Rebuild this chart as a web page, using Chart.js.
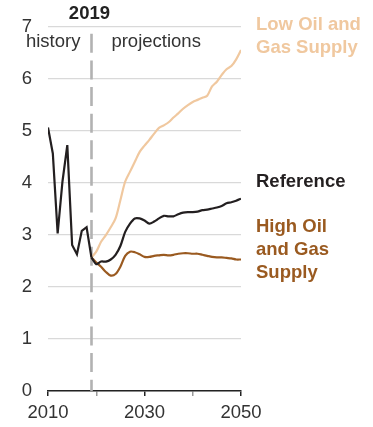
<!DOCTYPE html>
<html>
<head>
<meta charset="utf-8">
<script src="https://cdn.jsdelivr.net/npm/chart.js@4.4.1/dist/chart.umd.min.js"></script>
<style>
  html, body { margin: 0; padding: 0; background: #ffffff; }
  #wrap { width: 373px; height: 427px; }
</style>
</head>
<body>
<div id="wrap"><canvas id="c" width="373" height="427"></canvas></div>
<script>
// Years covered by the history series and the projection series
const historyYears = [2010, 2011, 2012, 2013, 2014, 2015, 2016, 2017, 2018, 2019];
const projectionYears = [2019, 2020, 2021, 2022, 2023, 2024, 2025, 2026, 2027, 2028, 2029,
  2030, 2031, 2032, 2033, 2034, 2035, 2036, 2037, 2038, 2039,
  2040, 2041, 2042, 2043, 2044, 2045, 2046, 2047, 2048, 2049, 2050];

// Historical values (shared by all cases)
const historyValues = [5.07, 4.57, 3.03, 4.03, 4.73, 2.81, 2.63, 3.08, 3.15, 2.57];

// Projected values, 2019-2050
const referenceValues = [2.57, 2.44, 2.49, 2.49, 2.53, 2.62, 2.79, 3.06, 3.22, 3.32, 3.32,
  3.28, 3.22, 3.26, 3.32, 3.37, 3.36, 3.36, 3.40, 3.43, 3.44,
  3.44, 3.45, 3.48, 3.49, 3.51, 3.53, 3.56, 3.61, 3.63, 3.66, 3.70];
const lowSupplyValues = [2.57, 2.68, 2.87, 3.00, 3.15, 3.32, 3.67, 4.03, 4.22, 4.41, 4.60,
  4.72, 4.83, 4.95, 5.06, 5.11, 5.17, 5.26, 5.34, 5.43, 5.50,
  5.56, 5.60, 5.64, 5.68, 5.86, 5.95, 6.08, 6.19, 6.25, 6.38, 6.56];
const highSupplyValues = [2.57, 2.47, 2.39, 2.29, 2.22, 2.25, 2.39, 2.60, 2.68, 2.67, 2.63,
  2.58, 2.58, 2.60, 2.61, 2.62, 2.61, 2.62, 2.64, 2.65, 2.65,
  2.64, 2.64, 2.62, 2.60, 2.58, 2.57, 2.57, 2.56, 2.55, 2.53, 2.53];

// Axis tick values
const yTicks = [0, 1, 2, 3, 4, 5, 6, 7];
const xTickYears = [2010, 2020, 2030, 2040, 2050];
const xLabeledYears = [2010, 2030, 2050];
const splitYear = 2019;

const COLORS = {
  reference: '#231f20',
  low: '#f0c89f',
  high: '#9a5a20',
  grid: '#d9d9d9',
  dash: '#b2b2b2',
  text: '#333333'
};
const FONT = '"Liberation Sans", Arial, Helvetica, sans-serif';
const TEXT_SIZE = 18.5;

function toPoints(xs, ys) { return xs.map((x, i) => ({ x: x, y: ys[i] })); }

// Dashed divider plus the "2019 / history / projections" captions
const dividerPlugin = {
  id: 'divider',
  beforeDatasetsDraw(chart) {
    const { ctx, scales: { x, y } } = chart;
    const px = Math.round(x.getPixelForValue(splitYear)) + 0.5;
    ctx.save();
    ctx.strokeStyle = COLORS.dash;
    ctx.lineWidth = 2.6;
    ctx.setLineDash([19, 7.6]);
    ctx.beginPath();
    ctx.moveTo(px, y.getPixelForValue(6.87));
    ctx.lineTo(px, y.getPixelForValue(0));
    ctx.stroke();
    ctx.restore();
  },
  afterDraw(chart) {
    const { ctx, scales: { x } } = chart;
    const px = x.getPixelForValue(splitYear);
    ctx.save();
    ctx.textBaseline = 'middle';
    ctx.fillStyle = '#222222';
    ctx.font = 'bold ' + TEXT_SIZE + 'px ' + FONT;
    ctx.textAlign = 'center';
    ctx.fillText(String(splitYear), px - 2, 14);
    ctx.fillStyle = COLORS.text;
    ctx.font = TEXT_SIZE + 'px ' + FONT;
    ctx.textAlign = 'right';
    ctx.fillText('history', px - 11, 42);
    ctx.textAlign = 'left';
    ctx.fillText('projections', px + 20, 42);
    ctx.restore();
  }
};

// Case labels to the right of the plot
const caseLabels = [
  { lines: ['Low Oil and', 'Gas Supply'], color: COLORS.low, top: 25 },
  { lines: ['Reference'], color: COLORS.reference, top: 182 },
  { lines: ['High Oil', 'and Gas', 'Supply'], color: COLORS.high, top: 227 }
];
const caseLabelPlugin = {
  id: 'caseLabels',
  afterDraw(chart) {
    const { ctx, chartArea } = chart;
    ctx.save();
    ctx.font = 'bold ' + TEXT_SIZE + 'px ' + FONT;
    ctx.textBaseline = 'middle';
    ctx.textAlign = 'left';
    caseLabels.forEach(lbl => {
      ctx.fillStyle = lbl.color;
      lbl.lines.forEach((t, i) => ctx.fillText(t, chartArea.right + 15, lbl.top + i * 23));
    });
    ctx.restore();
  }
};

const lineStyle = { borderWidth: 2.2, pointRadius: 0, pointHoverRadius: 0 };

new Chart(document.getElementById('c'), {
  type: 'line',
  data: {
    datasets: [
      Object.assign({
        label: 'History',
        data: toPoints(historyYears, historyValues),
        borderColor: COLORS.reference,
        tension: 0,
        order: 0
      }, lineStyle),
      Object.assign({
        label: 'Reference',
        data: toPoints(projectionYears, referenceValues),
        borderColor: COLORS.reference,
        tension: 0.3,
        order: 1
      }, lineStyle),
      Object.assign({
        label: 'High Oil and Gas Supply',
        data: toPoints(projectionYears, highSupplyValues),
        borderColor: COLORS.high,
        tension: 0.3,
        order: 2
      }, lineStyle),
      Object.assign({
        label: 'Low Oil and Gas Supply',
        data: toPoints(projectionYears, lowSupplyValues),
        borderColor: COLORS.low,
        tension: 0.3,
        order: 3
      }, lineStyle)
    ]
  },
  options: {
    responsive: false,
    animation: false,
    devicePixelRatio: 1,
    layout: { padding: { left: 0, right: 132, top: 27, bottom: 0 } },
    plugins: {
      legend: { display: false },
      tooltip: { enabled: false }
    },
    scales: {
      x: {
        type: 'linear',
        min: 2010,
        max: 2050,
        afterFit(scale) { scale.height = 36; },
        afterBuildTicks(scale) {
          scale.ticks = xTickYears.map(v => ({ value: v }));
        },
        ticks: {
          autoSkip: false,
          maxRotation: 0,
          padding: 6,
          color: COLORS.text,
          font: { family: FONT, size: TEXT_SIZE },
          callback: v => (xLabeledYears.includes(v) ? String(v) : '')
        },
        grid: {
          drawOnChartArea: false,
          drawTicks: true,
          tickLength: 5,
          lineWidth: 1.5,
          color: ctx => (ctx.tick && xLabeledYears.includes(ctx.tick.value) ? '#222222' : '#999999')
        },
        border: { display: true, color: '#222222', width: 1.5 }
      },
      y: {
        min: 0,
        max: 7,
        afterFit(scale) { scale.width = 48; },
        afterBuildTicks(scale) {
          scale.ticks = yTicks.map(v => ({ value: v }));
        },
        ticks: {
          padding: 16,
          color: COLORS.text,
          font: { family: FONT, size: TEXT_SIZE }
        },
        grid: {
          color: COLORS.grid,
          lineWidth: 1.3,
          drawTicks: false
        },
        border: { display: false }
      }
    }
  },
  plugins: [dividerPlugin, caseLabelPlugin]
});
</script>
</body>
</html>
